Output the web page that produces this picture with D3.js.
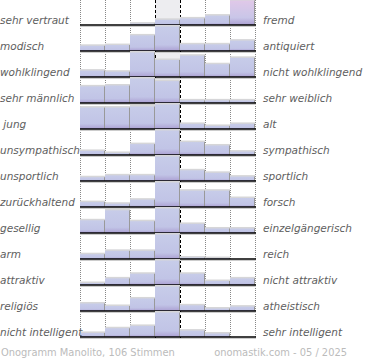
<!DOCTYPE html>
<html>
<head>
<meta charset="utf-8">
<script src="https://cdn.jsdelivr.net/npm/d3@7"></script>
<style>
  body { margin: 0; background: #fff; }
  svg { display: block; font-family: "DejaVu Sans", sans-serif; }
  .lbl { font-style: italic; font-size: 10.5px; fill: #5e5e5e; white-space: pre; }
  .foot { font-size: 9.9px; fill: #bbb; }
</style>
</head>
<body>
<svg id="chart" width="370" height="360"></svg>
<script>
const width = 370;
const height = 360;

// left / right adjective of each row
const leftLabels = ["sehr vertraut", "modisch", "wohlklingend", "sehr männlich", " jung",
    "unsympathisch", "unsportlich", "zurückhaltend", "gesellig", "arm",
    "attraktiv", "religiös", "nicht intelligent"];
const rightLabels = ["fremd", "antiquiert", "nicht wohlklingend", "sehr weiblich", "alt",
    "sympathisch", "sportlich", "forsch", "einzelgängerisch", "reich",
    "nicht attraktiv", "atheistisch", "sehr intelligent"];

// share of votes (%) on the 7 steps, per row
const votes = [
    [0, 0, 3, 11, 14, 20, 52],
    [7, 8, 21, 33, 9, 9, 14],
    [6, 5, 23, 16, 20, 12, 18],
    [19, 20, 28, 25, 3, 3, 3],
    [21, 21, 22, 24, 5, 3, 5],
    [6, 3, 16, 36, 19, 14, 5],
    [6, 9, 9, 39, 17, 13, 7],
    [6, 4, 9, 30, 20, 20, 11],
    [14, 25, 13, 27, 10, 5, 5],
    [10, 17, 17, 51, 3, 2, 0],
    [3, 10, 17, 37, 17, 6, 10],
    [12, 8, 20, 39, 9, 4, 7],
    [7, 15, 19, 42, 11, 6, 0]
];

const footLeft = "Onogramm Manolito, 106 Stimmen";
const footRight = "onomastik.com - 05 / 2025";

const steps = d3.range(7);
const svg = d3.select("#chart");

const x = d3.scaleBand().domain(steps).range([80, 255]);
const y = d3.scaleBand().domain(d3.range(votes.length)).range([-1, 337]);
const rowH = y.bandwidth();

const defs = svg.append("defs");
function grad(id, stops) {
    const g = defs.append("linearGradient").attr("id", id)
        .attr("x1", 0).attr("y1", 0).attr("x2", 0).attr("y2", 1);
    stops.forEach(s => g.append("stop").attr("offset", s[0]).attr("stop-color", s[1]));
}
grad("barGrad", [["0%", "#c7cce9"], ["75%", "#c1c4e6"], ["100%", "#ab9fd2"]]);
grad("barPink", [["0%", "#e0c8e8"], ["70%", "#c9c6e8"], ["100%", "#ab9fd2"]]);

// neutral column background
svg.append("g").selectAll("rect")
    .data(votes)
    .enter()
    .append("rect")
    .attr("x", x(3))
    .attr("y", (d, i) => y(i) + 1)
    .attr("width", x.bandwidth())
    .attr("height", rowH - 1)
    .attr("fill", "#ededf0");

// vertical grid
const edges = d3.range(8).map(i => i < 7 ? x(i) : x(6) + x.bandwidth());
svg.append("g").selectAll("line")
    .data(edges)
    .enter()
    .append("line")
    .attr("x1", d => Math.round(d) + 0.5)
    .attr("x2", d => Math.round(d) + 0.5)
    .attr("y1", 0)
    .attr("y2", 340)
    .attr("stroke", (d, i) => (i === 3 || i === 4) ? "#000" : "#888")
    .attr("stroke-width", 1)
    .attr("stroke-dasharray", (d, i) => (i === 3 || i === 4) ? "3,2" : "1,1");

// rows
const rows = svg.append("g").selectAll("g")
    .data(votes)
    .enter()
    .append("g")
    .attr("transform", (d, i) => `translate(0,${y(i) + rowH})`);

rows.each(function(row, ri) {
    const g = d3.select(this);
    const h = d3.scaleLinear().domain([0, d3.max(row)]).range([0, rowH - 1.5]);

    // top shade
    g.selectAll(".shade")
        .data(row)
        .enter()
        .append("rect")
        .attr("x", (d, i) => x(i))
        .attr("y", d => -h(d) - 1.5)
        .attr("width", x.bandwidth())
        .attr("height", d => d > 0 ? h(d) + 1.5 : 0)
        .attr("fill", "#d6d6d8");

    g.selectAll(".bar")
        .data(row)
        .enter()
        .append("rect")
        .attr("x", (d, i) => x(i))
        .attr("y", d => -h(d))
        .attr("width", x.bandwidth() - 1)
        .attr("height", d => h(d))
        .attr("fill", (d, i) => (ri === 0 && i === 6) ? "url(#barPink)" : "url(#barGrad)");

    // right edge of each bar
    g.selectAll(".edge")
        .data(row)
        .enter()
        .append("line")
        .attr("x1", (d, i) => x(i) + x.bandwidth() - 0.5)
        .attr("x2", (d, i) => x(i) + x.bandwidth() - 0.5)
        .attr("y1", d => -h(d))
        .attr("y2", 0)
        .attr("stroke", "#999")
        .attr("stroke-width", d => d > 0 ? 1 : 0);

    // baseline + shadow
    g.append("line")
        .attr("x1", 80).attr("x2", 256)
        .attr("y1", 1.5).attr("y2", 1.5)
        .attr("stroke", "#ccc").attr("stroke-width", 1);
    g.append("line")
        .attr("x1", 80).attr("x2", 256)
        .attr("y1", 0).attr("y2", 0)
        .attr("stroke", "#000").attr("stroke-width", 1.6);

    g.append("text")
        .attr("class", "lbl")
        .attr("x", 0)
        .attr("y", -1.5)
        .text(leftLabels[ri]);
    g.append("text")
        .attr("class", "lbl")
        .attr("x", 263)
        .attr("y", -1.5)
        .text(rightLabels[ri]);
});

svg.append("text")
    .attr("class", "foot")
    .attr("x", 1)
    .attr("y", 356)
    .text(footLeft);
svg.append("text")
    .attr("class", "foot")
    .attr("x", 347)
    .attr("y", 356)
    .attr("text-anchor", "end")
    .text(footRight);
</script>
</body>
</html>
